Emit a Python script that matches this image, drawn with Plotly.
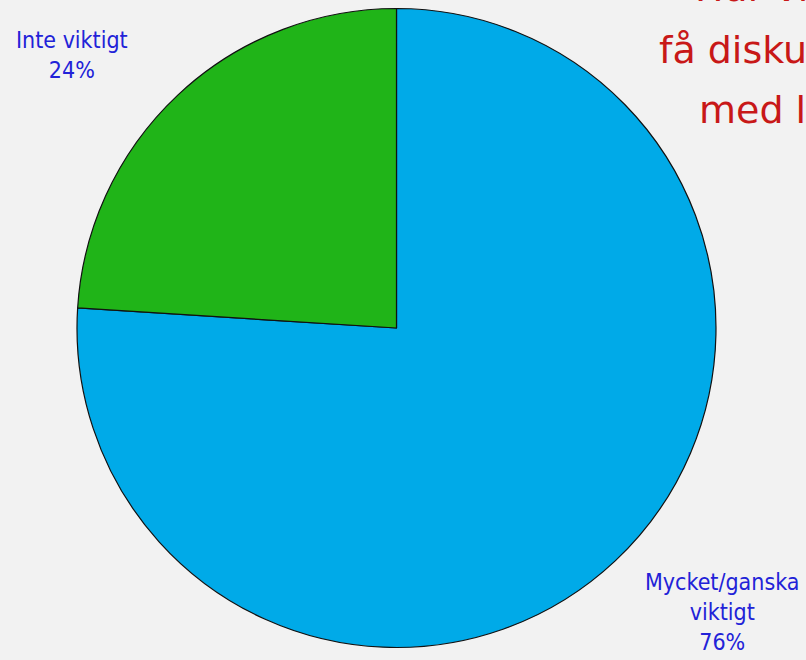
import plotly.graph_objects as go

# Data
categories = ["Mycket/ganska<br>viktigt", "Inte viktigt"]
values = [76, 24]
colors = ["#00aae8", "#20b418"]
title_lines = ["Hur viktigt är det att", "få diskutera", "med läkaren?"]

W, H = 806, 660

def px(x):
    return x / W

def py(y):
    return 1 - y / H

fig = go.Figure(go.Pie(
    labels=categories,
    values=values,
    marker=dict(colors=colors, line=dict(color="#111111", width=1.2)),
    sort=False,
    direction="clockwise",
    rotation=0,
    textinfo="none",
    hoverinfo="label+percent",
    showlegend=False,
    domain=dict(x=[px(77), px(716)], y=[py(648), py(8)]),
))

total = sum(values)
label_pos = [(722, 612), (72, 55)]
annotations = []
for cat, v, (lx, ly) in zip(categories, values, label_pos):
    annotations.append(dict(
        x=px(lx), y=py(ly), xref="paper", yref="paper",
        text=f"{cat}<br>{round(100 * v / total)}%",
        showarrow=False, align="center", xanchor="center", yanchor="middle",
        font=dict(family="DejaVu Sans Condensed, DejaVu Sans", size=23, color="#2222d8"),
    ))

title_pos = [(693, -12), (657, 50), (697, 110)]
for t, (tx, ty) in zip(title_lines, title_pos):
    annotations.append(dict(
        x=px(tx), y=py(ty), xref="paper", yref="paper",
        text=t, showarrow=False, xanchor="left", yanchor="middle",
        font=dict(family="DejaVu Sans", size=38, color="#c81818"),
    ))

fig.update_layout(
    width=W, height=H,
    margin=dict(l=0, r=0, t=0, b=0),
    paper_bgcolor="#f2f2f2",
    plot_bgcolor="#f2f2f2",
    annotations=annotations,
)

fig.write_html(
    "out.html",
    config={"displayModeBar": False},
    post_script="document.body.style.margin='0';document.body.style.background='#f2f2f2';document.body.style.overflow='hidden';",
)
